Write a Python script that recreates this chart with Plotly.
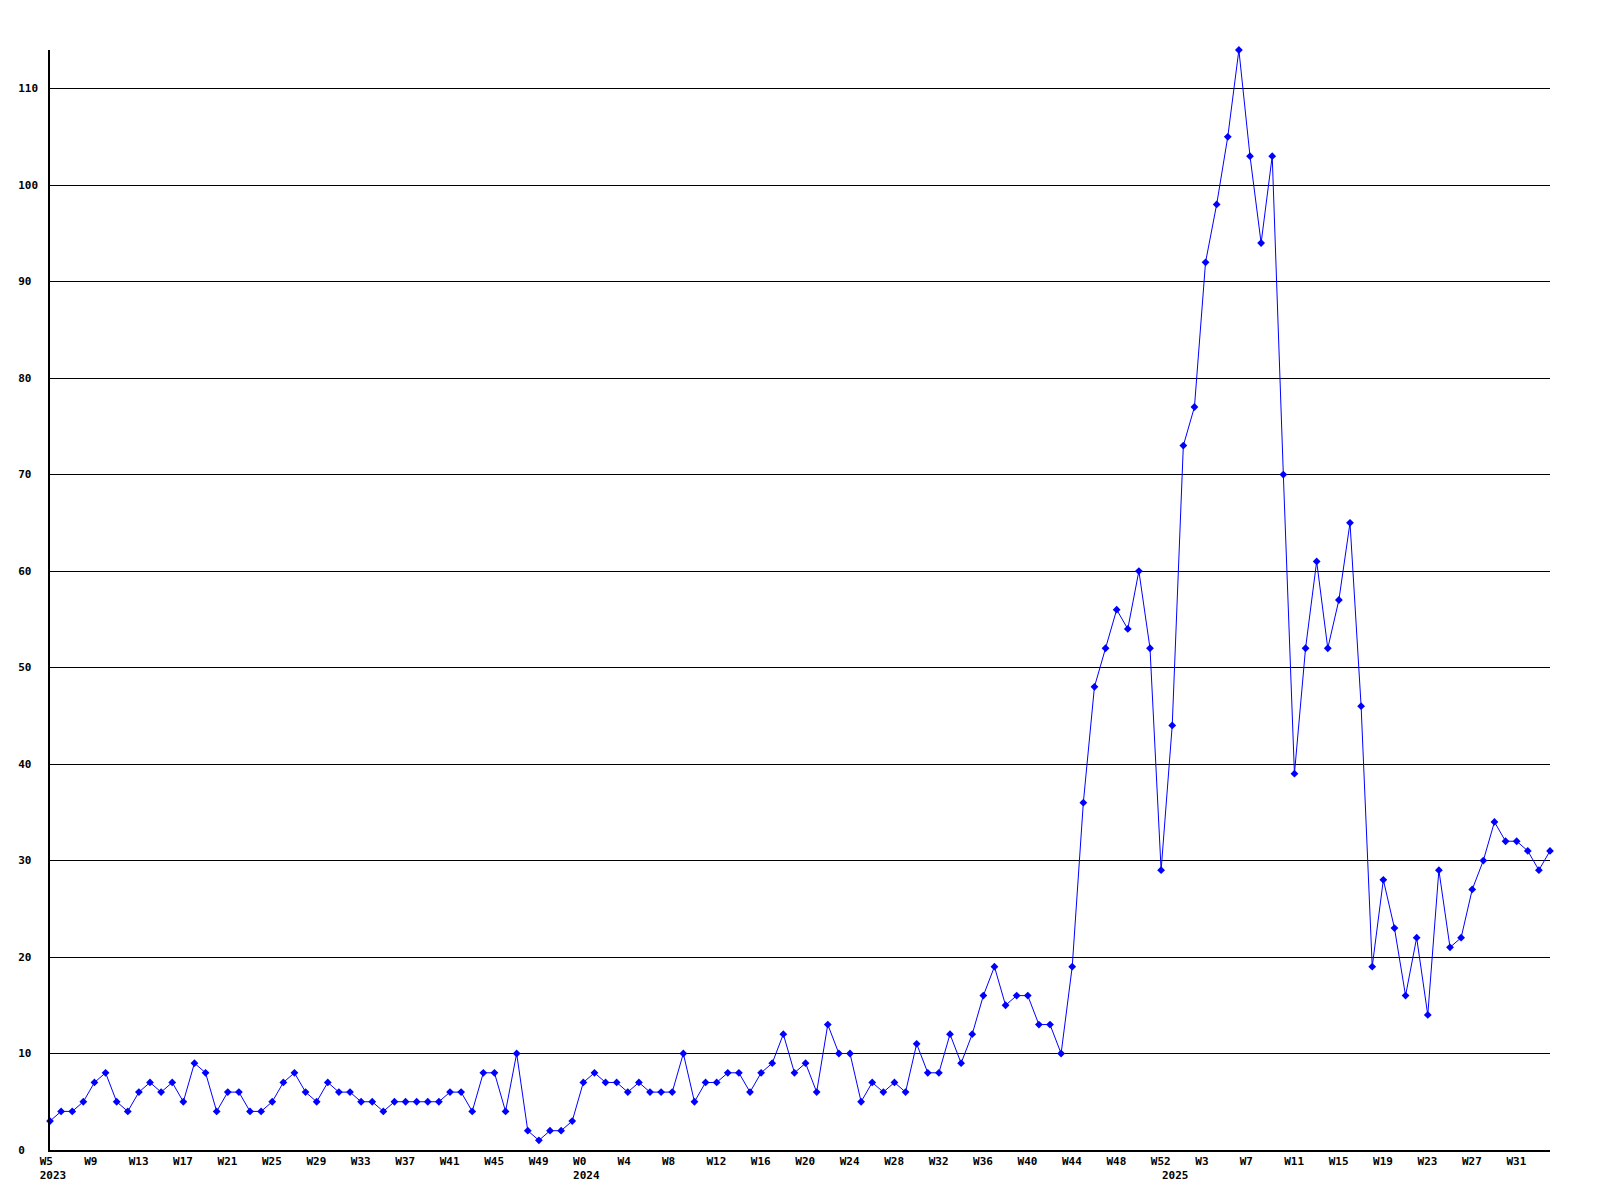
import plotly.graph_objects as go

# ---- data ----
years_2023 = list(range(5, 53))      # W5..W52
years_2024 = list(range(0, 53))      # W0..W52
years_2025 = list(range(0, 35))      # W0..W34

values_2023 = [3, 4, 4, 5, 7, 8, 5, 4, 6, 7, 6, 7, 5, 9, 8, 4, 6, 6, 4, 4,
               5, 7, 8, 6, 5, 7, 6, 6, 5, 5, 4, 5, 5, 5, 5, 5, 6, 6, 4, 8,
               8, 4, 10, 2, 1, 2, 2, 3]
values_2024 = [7, 8, 7, 7, 6, 7, 6, 6, 6, 10, 5, 7, 7, 8, 8, 6, 8, 9, 12, 8,
               9, 6, 13, 10, 10, 5, 7, 6, 7, 6, 11, 8, 8, 12, 9, 12, 16, 19, 15, 16,
               16, 13, 13, 10, 19, 36, 48, 52, 56, 54, 60, 52, 29]
values_2025 = [44, 73, 77, 92, 98, 105, 114, 103, 94, 103, 70, 39, 52, 61, 52, 57, 65, 46, 19, 28,
               23, 16, 22, 14, 29, 21, 22, 27, 30, 34, 32, 32, 31, 29, 31]

y_ticks = [0, 10, 20, 30, 40, 50, 60, 70, 80, 90, 100, 110]

# ---- assemble ----
weeks = [("2023", w) for w in years_2023] + [("2024", w) for w in years_2024] + [("2025", w) for w in years_2025]
values = values_2023 + values_2024 + values_2025
x = list(range(len(values)))

tickvals, ticktext = [], []
first_of_year = {}
for i, (yr, w) in enumerate(weeks):
    if yr not in first_of_year:
        first_of_year[yr] = i
for i, (yr, w) in enumerate(weeks):
    line1 = f"W{w}" if i % 4 == 0 else None
    line2 = yr if first_of_year[yr] == i else None
    if line1 is None and line2 is None:
        continue
    txt = (line1 if line1 else "\u00a0") + ("<br>" + line2 if line2 else "")
    tickvals.append(i)
    ticktext.append(txt)

ytext = [str(v) + "\u00a0" * (3 - len(str(v))) for v in y_ticks]

font = "DejaVu Sans Mono"

fig = go.Figure()
fig.add_trace(go.Scatter(
    x=x, y=values, mode="lines+markers",
    line=dict(color="#0000ff", width=1),
    marker=dict(symbol="diamond", size=6, color="#0000ff"),
    cliponaxis=False,
    showlegend=False,
))

fig.update_layout(
    width=1600, height=1200,
    margin=dict(l=42, r=58, t=42, b=58, autoexpand=False),
    paper_bgcolor="white", plot_bgcolor="white",
    font=dict(family=font, size=11, color="black"),
    xaxis=dict(
        range=[0, len(values) - 1],
        tickmode="array", tickvals=tickvals, ticktext=ticktext,
        ticklabelposition="outside right",
        ticklabelshift=-11,
        tickangle=0,
        automargin=False,
        ticks="", showgrid=False, zeroline=False,
        showline=True, linecolor="black", linewidth=1.5,
        tickfont=dict(family=font, size=11, color="black", weight="bold"),
    ),
    yaxis=dict(
        range=[0, 114],
        tickmode="array", tickvals=y_ticks, ticktext=ytext,
        automargin=False,
        ticks="", showgrid=True, gridcolor="black", gridwidth=1,
        zeroline=False,
        showline=True, linecolor="black", linewidth=1.5,
        ticklabelstandoff=8,
        tickfont=dict(family=font, size=11, color="black", weight="bold"),
    ),
)

fig.write_html("out.html")
